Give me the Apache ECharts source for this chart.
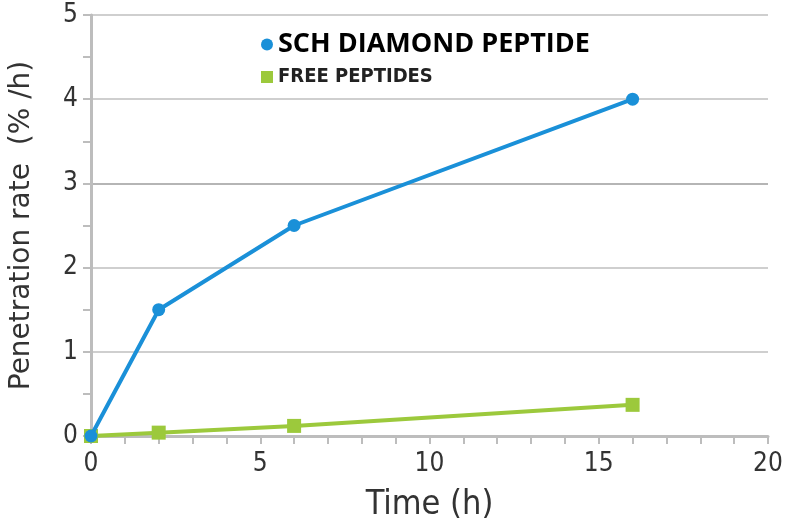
<!DOCTYPE html>
<html>
<head>
<meta charset="utf-8">
<script src="https://cdn.jsdelivr.net/npm/echarts@6/dist/echarts.min.js"></script>
<style>
  html, body { margin: 0; padding: 0; background: #fff; }
  #chart { width: 786px; height: 528px; }
</style>
</head>
<body>
<div id="chart"></div>
<script>
// 数据
const timeHours = [0, 2, 6, 16];
const schDiamond = [0, 1.5, 2.5, 4.0];
const freePeptides = [0, 0.04, 0.12, 0.37];
const seriesNames = ['SCH DIAMOND PEPTIDE', 'FREE PEPTIDES'];

const font = "'Liberation Sans Narrow', 'DejaVu Sans Condensed', 'Liberation Sans', sans-serif";
const nameFont = "'DejaVu Sans', sans-serif";
const axisGray = '#bdbdbd';

const chart = echarts.init(document.getElementById('chart'));

const option = {
  animation: false,
  backgroundColor: '#fff',
  grid: { left: 91, right: 18, top: 15, bottom: 92, outerBoundsMode: 'none', containLabel: false },
  legend: [
    {
      data: [{ name: seriesNames[0], icon: 'circle' }],
      left: 256, top: 26,
      itemWidth: 12, itemHeight: 12, itemGap: 4,
      textStyle: { fontSize: 27, fontWeight: 'bold', color: '#000', fontFamily: "'Open Sans', sans-serif" }
    },
    {
      data: [{ name: seriesNames[1], icon: 'rect' }],
      left: 256, top: 62,
      itemWidth: 12, itemHeight: 12, itemGap: 6,
      textStyle: { fontSize: 20, fontWeight: 'bold', color: '#222', fontFamily: font }
    }
  ],
  xAxis: {
    type: 'value',
    min: 0, max: 20, interval: 5,
    name: 'Time (h)',
    nameLocation: 'middle',
    nameGap: 52,
    nameTextStyle: { fontSize: 34, color: '#333', fontFamily: font },
    axisLine: { lineStyle: { color: axisGray, width: 3 } },
    axisTick: { show: true, length: 8, lineStyle: { color: axisGray, width: 2 } },
    minorTick: { show: true, splitNumber: 5, length: 8, lineStyle: { color: axisGray, width: 2 } },
    axisLabel: { fontSize: 26, color: '#333', margin: 15, fontFamily: font },
    splitLine: { show: false }
  },
  yAxis: {
    type: 'value',
    min: 0, max: 5, interval: 1,
    name: 'Penetration rate  (% /h)',
    nameLocation: 'middle',
    nameGap: 55,
    nameTextStyle: { fontSize: 28, color: '#333', fontFamily: nameFont },
    axisLine: { show: true, lineStyle: { color: axisGray, width: 3 } },
    axisTick: { show: true, length: 8, lineStyle: { color: axisGray, width: 2 } },
    minorTick: { show: true, splitNumber: 2, length: 8, lineStyle: { color: axisGray, width: 2 } },
    axisLabel: { fontSize: 26, color: '#333', margin: 13, fontFamily: font },
    splitLine: {
      show: true,
      lineStyle: { color: ['#cfcfcf', '#cfcfcf', '#cfcfcf', '#b5b5b5', '#cfcfcf', '#cfcfcf'], width: 2 }
    }
  },
  series: [
    {
      name: seriesNames[0],
      type: 'line',
      data: timeHours.map((t, i) => [t, schDiamond[i]]),
      color: '#1a90d8',
      lineStyle: { width: 4 },
      symbol: 'circle',
      symbolSize: 13,
      z: 3
    },
    {
      name: seriesNames[1],
      type: 'line',
      data: timeHours.map((t, i) => [t, freePeptides[i]]),
      color: '#9cc93c',
      lineStyle: { width: 4 },
      symbol: 'rect',
      symbolSize: 14,
      z: 2
    }
  ]
};

chart.setOption(option);
</script>
</body>
</html>
